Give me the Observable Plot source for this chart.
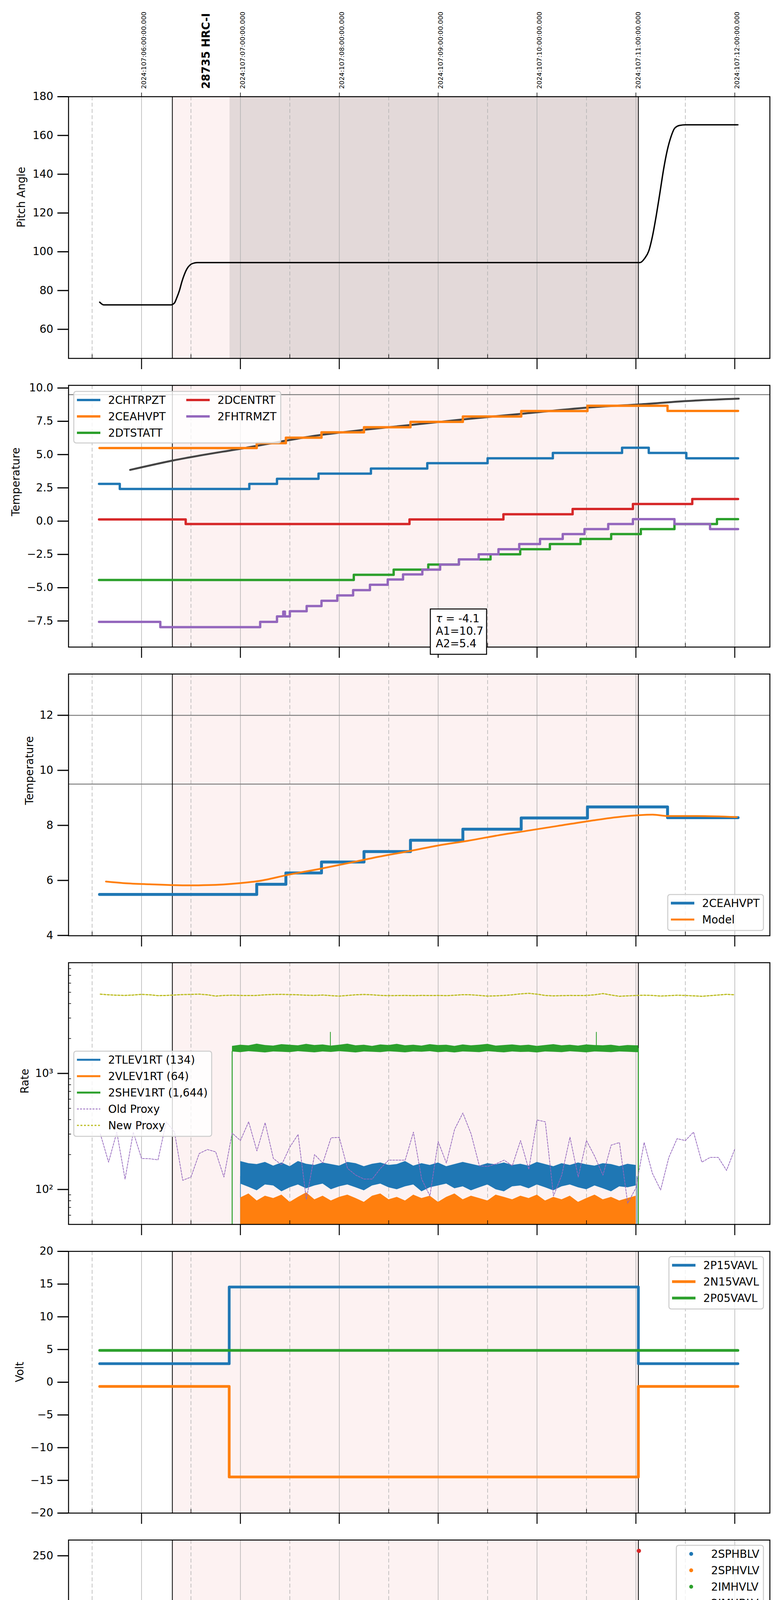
<!DOCTYPE html>
<html>
<head>
<meta charset="utf-8">
<script src="https://cdn.jsdelivr.net/npm/d3@7"></script>
<script src="https://cdn.jsdelivr.net/npm/@observablehq/plot@0.6"></script>
<style>
  body { margin: 0; background: white; }
  #chart svg { display: block; }
  #chart svg + svg { margin-top: -40px; }
</style>
</head>
<body>
<div id="chart"></div>
<script>
// times are local hours on 2024-04-16 written as "HH:MM" (minutes may be fractional)
const hr = s => { const [h, m] = s.split(":"); return +h + +m / 60; };

// ---- time axis ----
const xStart = "01:15.7", xEnd = "08:21.3";
const hourTicks = ["02:00", "03:00", "04:00", "05:00", "06:00", "07:00", "08:00"];
const hourLabels = ["02h", "03h", "04h", "05h", "06h", "07h", "08h"];
const halfTicks = ["01:30", "02:30", "03:30", "04:30", "05:30", "06:30", "07:30"];
const halfLabel = "30";
const utcLabels = ["2024:107:06:00:00.000", "2024:107:07:00:00.000", "2024:107:08:00:00.000",
  "2024:107:09:00:00.000", "2024:107:10:00:00.000", "2024:107:11:00:00.000", "2024:107:12:00:00.000"];
const dateLabel = "2024-04-16 (107)";

const obsStart = "02:18.7", obsEnd = "07:01.5", sciStart = "02:53.5";
const obsLabel = "28735 HRC-I", obsLabelAt = "02:36.7";
const hkEnd = "08:02";

// ---- pitch ----
const pitchTimes = ["01:34.6", "01:37.0", "02:17.8", "02:19.9", "02:21.4", "02:23.0", "02:24.5", "02:26.0",
  "02:27.5", "02:29.6", "02:32.0", "02:34.0", "07:02.4", "07:05.4", "07:07.8", "07:10.0", "07:12.4",
  "07:14.5", "07:16.9", "07:19.0", "07:21.4", "07:23.6", "07:26.6", "07:30.2", "08:01.9"];
const pitchVals = [74.0, 72.6, 72.6, 73.5, 76.3, 80.0, 84.6, 88.3, 91.1, 93.3, 94.2, 94.4, 94.4, 96.7,
  100.4, 107.8, 118.9, 130.0, 143.0, 152.2, 159.6, 163.8, 165.2, 165.5, 165.5];

// ---- housekeeping temperatures ----
const chtrpztTimes = ["01:34.2", "01:46.8", "03:05.4", "03:22.2", "03:47.4", "04:19.2", "04:53.4", "05:30.0",
  "06:09.6", "06:51.6", "07:07.8", "07:30.6"];
const chtrpztVals = [2.80, 2.42, 2.80, 3.18, 3.57, 3.95, 4.35, 4.72, 5.12, 5.51, 5.12, 4.72];
const ceahvptTimes = ["01:34.5", "03:09.9", "03:27.6", "03:49.2", "04:15.0", "04:43.2", "05:15.0", "05:50.4",
  "06:30.6", "07:19.2"];
const ceahvptVals = [5.49, 5.86, 6.27, 6.67, 7.05, 7.46, 7.86, 8.27, 8.67, 8.28];
const dtstattTimes = ["01:34.2", "04:08.8", "04:33.0", "04:54.0", "05:12.6", "05:31.8", "05:49.8", "06:07.8",
  "06:26.4", "06:45.0", "07:03.0", "07:23.4", "07:49.2"];
const dtstattVals = [-4.42, -4.03, -3.64, -3.26, -2.87, -2.49, -2.11, -1.72, -1.34, -0.97, -0.60, -0.22, 0.15];
const dcentrtTimes = ["01:34.2", "02:26.8", "04:42.6", "05:39.6", "06:21.6", "06:58.2", "07:34.2"];
const dcentrtVals = [0.13, -0.22, 0.13, 0.52, 0.91, 1.29, 1.66];
const fhtrmztTimes = ["01:34.2", "02:11.4", "03:12.0", "03:22.2", "03:26.0", "03:27.0", "03:30.0", "03:40.2",
  "03:49.2", "03:58.8", "04:08.4", "04:18.6", "04:29.4", "04:38.7", "04:50.4", "05:01.2", "05:12.6",
  "05:24.6", "05:36.6", "05:49.2", "06:01.8", "06:15.6", "06:28.8", "06:43.2", "06:58.2", "07:23.4", "07:45.0"];
const fhtrmztVals = [-7.57, -7.96, -7.57, -7.16, -6.80, -7.16, -6.77, -6.38, -5.98, -5.58, -5.18, -4.78,
  -4.38, -4.00, -3.64, -3.26, -2.87, -2.49, -2.11, -1.72, -1.34, -0.97, -0.60, -0.22, 0.15, -0.22, -0.60];
const fitTimes = ["01:53.1", "02:19.2", "03:03.0", "03:50.4", "04:15.0", "04:43.2", "05:15.0", "05:50.4",
  "06:30.6", "07:02.4", "07:30.6", "08:02.4"];
const fitVals = [3.85, 4.56, 5.50, 6.50, 6.86, 7.22, 7.64, 8.06, 8.53, 8.77, 9.02, 9.20];
const fitNote = ["τ = -4.1", "A1=10.7", "A2=5.4"];
const tempLimits = [9.5];

// ---- 2CEAHVPT model ----
const modelTimes = ["01:38.4", "01:49.8", "02:04.8", "02:28.8", "02:40.8", "02:59.4", "03:11.4", "03:29.4",
  "03:47.4", "04:05.4", "04:24.0", "04:42.0", "05:00.0", "05:18.0", "05:36.6", "05:54.6", "06:12.6",
  "06:30.6", "06:51.6", "07:10.2", "07:19.2", "07:37.2", "08:01.2"];
const modelVals = [5.96, 5.90, 5.86, 5.82, 5.83, 5.90, 5.98, 6.21, 6.41, 6.63, 6.86, 7.06, 7.27, 7.44, 7.64,
  7.81, 7.98, 8.15, 8.32, 8.39, 8.34, 8.34, 8.30];
const modelLimits = [12, 9.5];

// ---- rates (5 minute envelopes of the noisy rates) ----
const levStart = "03:00", levStep = 5;
const tlevHi = [175, 168, 165, 172, 160, 170, 158, 175, 166, 162, 170, 165, 160, 172, 168, 158, 166, 170, 162,
  165, 175, 160, 168, 162, 170, 158, 165, 172, 166, 160, 168, 164, 170, 162, 166, 160, 172, 165, 158, 168, 162,
  170, 164, 160, 168, 165, 158, 166, 162];
const tlevLo = [112, 105, 98, 110, 108, 96, 104, 110, 102, 108, 112, 100, 106, 110, 104, 98, 108, 112, 104,
  100, 106, 110, 96, 104, 108, 112, 102, 106, 98, 104, 110, 100, 96, 106, 108, 102, 110, 104, 98, 106, 110, 104,
  100, 108, 102, 96, 106, 104, 108];
const vlevHi = [85, 92, 80, 88, 84, 90, 78, 86, 94, 82, 88, 80, 86, 90, 84, 78, 88, 92, 82, 86, 80, 90, 84, 88,
  78, 86, 92, 82, 88, 84, 80, 90, 86, 82, 88, 84, 90, 80, 86, 82, 88, 78, 84, 90, 82, 86, 80, 84, 88];
const vlevLo = 45;
const tlevEdgeTimes = ["03:00", "07:00.6"], tlevEdgeTop = [130, 130];
const shevStart = "02:55", shevStep = 5;
const shevHi = [1720, 1760, 1740, 1800, 1750, 1730, 1780, 1760, 1740, 1790, 1750, 1770, 1730, 1760, 1800, 1740,
  1760, 1720, 1770, 1750, 1790, 1740, 1760, 1730, 1780, 1750, 1760, 1720, 1770, 1740, 1760, 1790, 1730, 1750,
  1770, 1740, 1760, 1720, 1750, 1780, 1740, 1760, 1730, 1770, 1750, 1740, 1760, 1720, 1750, 1740];
const shevLo = [1540, 1520, 1550, 1530, 1510, 1540, 1530, 1520, 1550, 1530, 1515, 1540, 1525, 1550, 1530, 1510,
  1540, 1530, 1520, 1545, 1530, 1515, 1540, 1530, 1550, 1520, 1535, 1510, 1540, 1530, 1520, 1550, 1530, 1515,
  1540, 1525, 1530, 1510, 1540, 1530, 1520, 1545, 1530, 1515, 1540, 1530, 1520, 1540, 1530, 1520];
const shevEdgeTimes = ["02:55", "07:01.5"], shevEdgeTop = [1550, 1650];
const shevSpikeTimes = ["03:54.6", "06:36.0"], shevSpikeVals = [2270, 2270];
const proxyStart = "01:35", proxyStep = 5;
const oldProxy = [301, 172, 312, 123, 312, 185, 184, 180, 383, 312, 120, 128, 204, 221, 211, 128, 306, 264, 383,
  215, 376, 185, 163, 232, 298, 82, 200, 169, 279, 281, 152, 133, 123, 123, 152, 179, 179, 179, 312, 123, 88, 259,
  169, 330, 456, 301, 160, 158, 166, 179, 160, 264, 149, 397, 383, 88, 133, 282, 128, 264, 193, 133, 241, 254, 76,
  103, 254, 138, 99, 189, 274, 264, 312, 172, 189, 189, 146, 223];
const newProxy = [4820, 4760, 4720, 4700, 4740, 4800, 4760, 4680, 4700, 4740, 4780, 4800, 4820, 4760, 4640,
  4700, 4720, 4700, 4690, 4700, 4760, 4790, 4800, 4780, 4760, 4720, 4700, 4740, 4680, 4640, 4700, 4760, 4790,
  4760, 4700, 4680, 4690, 4700, 4680, 4700, 4690, 4700, 4680, 4720, 4770, 4760, 4700, 4640, 4660, 4700, 4760,
  4850, 4900, 4820, 4700, 4660, 4680, 4700, 4690, 4700, 4760, 4880, 4740, 4620, 4660, 4700, 4720, 4700, 4640,
  4680, 4720, 4700, 4660, 4620, 4680, 4740, 4800, 4760];
const rateNames = ["2TLEV1RT (134)", "2VLEV1RT (64)", "2SHEV1RT (1,644)", "Old Proxy", "New Proxy"];

// ---- voltages ----
const voltTimes = ["01:34.6", "02:53.2", "07:01.5"], voltEnd = "08:01.9";
const p15Vals = [2.84, 14.55, 2.84];
const n15Vals = [-0.64, -14.48, -0.64];
const p05Vals = [4.87, 4.87, 4.87];

// ---- HV monitor ----
const hvOn = "03:00", hvOff = "07:01.5";
const imhblvLevel = 86, imhvlvLevel = 79;
const imhblvTimes = ["02:56.2", "02:56.2", "02:56.2", "02:56.8", "02:56.8", "02:57.7", "02:58.3", "02:58.3",
  "02:59.2", "04:49.5", "04:55.5", "05:00.0", "06:04.2", "06:07.8", "06:10.2", "06:13.8", "07:01.8"];
const imhblvVals = [127, 124, 119, 106, 104, 101, 97, 93, 90, 79, 79, 79, 79, 79, 79, 79, 255];
const imhvlvTimes = ["02:56.8", "02:57.4", "02:58.3", "02:58.9", "02:59.7", "04:49.5", "04:55.5", "05:00.0",
  "06:04.2", "06:07.8", "06:10.2", "06:13.8"];
const imhvlvVals = [100, 95, 90, 86, 82, 127, 127, 127, 127, 127, 127, 127];

// ---- detector temperatures ----
const detEnd = "07:01.0";
const spinatmTimes = ["02:53.5", "02:54.0", "04:33.5", "05:52.3", "06:56.4"];
const spinatmVals = [1.20, 1.74, 2.22, 2.69, 3.17];
const sphvatmTimes = ["02:53.5", "03:37.6", "04:04.8", "04:30.8", "04:58.6", "05:24.8", "05:53.8", "06:27.0", "06:59.4"];
const sphvatmVals = [13.64, 13.97, 14.30, 14.64, 14.99, 15.35, 15.69, 16.01, 16.35];
const iminatmTimes = ["02:53.5", "04:11.7", "05:28.7", "06:24.7"];
const iminatmVals = [-0.06, 0.38, 0.83, 1.29];
const imhvatmTimes = ["02:53.3", "02:53.5", "03:05.3", "03:12.5", "03:19.4", "03:26.4", "03:34.6", "03:44.5",
  "03:56.0", "04:09.6", "04:26.2", "04:44.0", "05:04.0", "05:28.7", "05:56.2", "06:29.2"];
const imhvatmVals = [-5, 12.94, 13.34, 13.67, 13.98, 14.32, 14.64, 14.99, 15.34, 15.69, 16.01, 16.35, 16.71,
  17.05, 17.41, 17.76];
const glitchTimes = ["04:43.4", "04:48.0", "04:49.5", "04:51.0", "04:52.5", "04:54.0", "04:55.5", "04:57.0",
  "04:58.5", "05:00.0", "05:03.0", "05:04.5", "05:07.5", "05:09.0", "05:11.4", "05:16.2",
  "05:50.4", "06:04.2", "06:06.6", "06:07.8", "06:10.2", "06:12.6", "06:13.8"];
const spinatmGlitch = [-3, -3, -3, -3, -3, -3, -3, -3, -3, -3, -3, -3, -3, -3, -3, -3, -3, -3, -3, -3, -3, -3, -3];
const sphvatmGlitch = [8.3, 8.3, 8.3, 8.3, -3, 8.3, -3, 8.3, 8.3, 8.3, 8.3, 8.3, 8.3, 8.3, 8.3, 8.3,
  8.9, 9.3, 9.3, 9.3, 9.3, 9.3, 9.3];
const iminatmGlitch = [2.32, 2.32, 2.32, 2.32, 2.32, 2.32, 2.32, 2.32, 2.32, 2.32, 2.32, 2.32, 2.32, 2.32, 2.32,
  2.32, 2.32, 2.79, 2.79, 2.79, 2.79, 2.79, 2.79];
const imhvatmGlitch = [14.6, 14.6, 14.6, 14.6, 14.6, 14.6, 14.6, 14.6, 14.6, 14.6, 14.6, 14.6, 14.6, 14.6, 14.6,
  14.6, 15.3, 15.6, 15.6, 15.6, 15.6, 15.6, 15.6];
const finalSpike = "07:01.8";

// ---- FEA temperatures ----
const fradpytTimes = ["01:34.6", "01:41.4", "01:50.7", "02:05.0", "02:40.0", "03:05.0", "03:22.5", "03:32.0",
  "03:41.7", "03:52.6", "04:02.9", "04:13.1", "04:24.0", "04:36.1", "04:47.6", "04:58.8", "05:11.8", "05:24.5",
  "05:37.5", "05:51.7", "06:05.3", "06:19.8", "06:34.6", "06:50.1"];
const fradpytVals = [-9.20, -9.62, -10.05, -10.45, -10.45, -10.05, -9.62, -9.20, -8.80, -8.40, -8.00, -7.60,
  -7.20, -6.80, -6.40, -6.00, -5.60, -5.20, -4.80, -4.40, -4.00, -3.60, -3.25, -2.88];
const fepratmTimes = ["02:53.3", "02:53.5", "02:57.2", "03:00.5", "03:03.6", "03:07.8", "03:13.3", "03:19.9",
  "03:27.5", "03:35.6", "03:44.1", "03:53.8", "04:03.4", "04:13.7", "04:24.9", "04:36.1", "04:47.6", "05:00.3",
  "05:14.5", "05:26.0", "05:40.5", "05:54.1", "06:09.2", "06:24.9", "06:42.5", "07:00.6"];
const fepratmVals = [-10.5, -8.12, -7.69, -7.27, -6.87, -6.42, -6.00, -5.60, -5.19, -4.79, -4.36, -3.96,
  -3.53, -3.11, -2.68, -2.26, -1.83, -1.41, -0.96, -0.50, -0.09, 0.37, 0.80, 1.27, 1.73, 2.10];
const fe00atmTimes = ["02:53.3", "02:53.5", "03:03.0", "03:10.6", "03:16.6", "03:22.9", "03:29.8", "03:36.8",
  "03:43.7", "03:51.5", "03:58.5", "04:06.6", "04:14.8", "04:22.4", "04:30.8", "04:39.3", "04:48.3", "04:57.5",
  "05:05.0", "05:19.5", "05:26.5", "05:37.7", "05:47.4", "05:58.0", "06:07.4", "06:19.2", "06:30.7", "06:41.9",
  "06:53.7"];
const fe00atmVals = [-10.5, -9.29, -8.93, -8.54, -8.19, -7.82, -7.48, -7.10, -6.76, -6.40, -6.06, -5.70, -5.36,
  -5.02, -4.68, -4.32, -3.97, -3.65, -3.32, -3.00, -2.68, -2.30, -1.94, -1.60, -1.32, -0.94, -0.62, -0.29, 0.05];
const feaEnd = "07:01.5";
const fepratmGlitch = [-6.08, -6.08, -6.08, -6.08, -6.08, -6.08, -6.08, -6.08, -6.08, -6.08, -6.08, -6.08,
  -6.08, -6.08, -6.08, -6.08, -6.08, -6.08, -6.08, -6.08, -6.08, -6.08, -6.08];
const fe00atmSpikeTimes = ["03:19.2", "03:42.2", "04:43.4", "04:48.0", "04:48.6", "04:49.2", "04:49.5", "04:50.2",
  "04:51.0", "04:51.6", "04:52.5", "04:53.2", "04:54.0", "04:55.5", "04:56.2", "04:57.0", "04:57.6", "04:58.5",
  "04:59.4", "05:00.0", "05:01.0", "05:02.0", "05:03.0", "05:04.5", "05:05.5", "05:07.5", "05:09.0", "05:11.4",
  "05:16.2", "05:50.4", "05:57.6", "06:04.2", "06:06.6", "06:07.8", "06:10.2", "06:12.6", "06:13.8", "06:20.1"];
const fe00atmSpikeVals = [-9.3, -8.2, 5, 5, 5, 5, 5, 5, 5, 5, -11, 5, 5, -11, 5, 5, 5, 5, 5, 5, 5, 5, 5, 5, 5,
  5, 5, 5, 5, 5, 5, -11, 5, 5, 5, 5, 5, 5];

// ---- helpers ----
const C = {blue: "#1f77b4", orange: "#ff7f0e", green: "#2ca02c", red: "#d62728", purple: "#9467bd", olive: "#bcbd22"};
const W = 2000, ML = 175, MR = 29, PH = 670, FONT = 27.8;
const PW = W - ML - MR;
// svgs overlap by 40px (css) so the top tick label of each panel stays inside its own svg
const layout = [{mt: 247, mb: 69}, {mt: 40, mb: 69}, {mt: 40, mb: 69}, {mt: 40, mb: 69},
                {mt: 40, mb: 69}, {mt: 40, mb: 69}, {mt: 40, mb: 69}, {mt: 40, mb: 110}];

const stepData = (times, vals, end) => {
  const d = times.map((t, i) => ({t: hr(t), v: vals[i]}));
  if (end) d.push({t: hr(end), v: vals[vals.length - 1]});
  return d;
};
const ptsData = (times, vals) => times.map((t, i) => ({t: hr(t), v: vals[i]}));
const levelAt = (times, vals, t) => {
  let v = vals[0];
  times.forEach((s, i) => { if (hr(s) <= t) v = vals[i]; });
  return v;
};
const spikeData = (times, vals, sTimes, sVals) =>
  sTimes.map((s, i) => ({t: hr(s), a: levelAt(times, vals, hr(s)), b: sVals[i]}));
const bandData = (start, stepMin, hi, lo) =>
  hi.map((h, i) => ({t: hr(start) + i * stepMin / 60, hi: h, lo: Array.isArray(lo) ? lo[i] : lo}));

const stepLine = (d, stroke, strokeWidth) =>
  Plot.line(d, {x: "t", y: "v", curve: "step-after", stroke, strokeWidth, strokeLinejoin: "round", clip: true});
const spikes = (d, stroke, strokeWidth) =>
  Plot.ruleX(d, {x: "t", y1: "a", y2: "b", stroke, strokeWidth, clip: true});
const minus = s => s.replace("-", "\u2212");

const legendMark = (mt, spec) => () => {
  const g = d3.create("svg:g")
    .attr("transform", `translate(${ML + spec.x},${mt + spec.y})`)
    .attr("font-family", "DejaVu Sans").attr("font-size", FONT).attr("text-anchor", "start");
  g.append("rect").attr("width", spec.w).attr("height", spec.h).attr("rx", 6)
    .attr("fill", "white").attr("fill-opacity", 0.8).attr("stroke", "#cccccc").attr("stroke-width", 2.5);
  spec.items.forEach((it, k) => {
    const col = Math.floor(k / spec.rows), row = k % spec.rows;
    const ox = col * (spec.colW || 0), cy = 22 + row * 42;
    if (it.dot) {
      g.append("circle").attr("cx", ox + 38).attr("cy", cy).attr("r", 5).attr("fill", it.color);
    } else {
      g.append("line").attr("x1", ox + 8).attr("x2", ox + 68).attr("y1", cy).attr("y2", cy)
        .attr("stroke", it.color).attr("stroke-width", it.w).attr("stroke-dasharray", it.dash || null);
    }
    g.append("text").attr("x", ox + (it.dot ? 89 : 88)).attr("y", cy).attr("dy", "0.35em").text(it.label);
  });
  return g.node();
};

const noteMark = (mt) => () => {
  const g = d3.create("svg:g").attr("transform", `translate(${ML + 927},${mt + 573})`)
    .attr("font-family", "DejaVu Sans").attr("font-size", FONT).attr("text-anchor", "start");
  g.append("rect").attr("width", 144).attr("height", 116).attr("fill", "white")
    .attr("stroke", "black").attr("stroke-width", 2.5);
  fitNote.forEach((line, k) => {
    const t = g.append("text").attr("x", 14).attr("y", 24 + k * 32).attr("dy", "0.35em");
    if (line.startsWith("τ")) {
      t.append("tspan").attr("font-style", "italic").text("τ");
      t.append("tspan").text(line.slice(1));
    } else t.text(line);
  });
  return g.node();
};

function panel(i, o) {
  const {mt, mb} = layout[i];
  const last = i === layout.length - 1;
  const [y0, y1] = o.domain;
  const hours = hourTicks.map(hr), halves = halfTicks.map(hr);
  const marks = [
    Plot.rect([0], {x1: () => hr(obsStart), x2: () => hr(obsEnd), y1: () => y0, y2: () => y1, fill: "#fdf2f2"}),
    ...(o.dark ? [Plot.rect([0], {x1: () => hr(sciStart), x2: () => hr(obsEnd), y1: () => y0, y2: () => y1,
                                  fill: "black", fillOpacity: 0.1})] : []),
    Plot.ruleX(hours, {stroke: "#b0b0b0", strokeWidth: 1.5}),
    Plot.ruleX(halves, {stroke: "#b0b0b0", strokeWidth: 1.5, strokeDasharray: "10,6"}),
    ...(o.limits ? [Plot.ruleY(o.limits, {stroke: "#808080", strokeWidth: 2.5})] : []),
    Plot.ruleX([hr(obsStart), hr(obsEnd)], {stroke: "black", strokeWidth: 2}),
    ...o.marks,
    // inward minor ticks at the half hours, outward major ticks at the hours
    Plot.ruleX(halves, {insetTop: PH - 10, stroke: "black", strokeWidth: 1.5}),
    Plot.ruleX(hours, {insetTop: PH, insetBottom: -28, stroke: "black", strokeWidth: 2.5}),
    ...(o.minorY ? [Plot.ruleY(o.minorY, {insetRight: PW - 7, stroke: "black", strokeWidth: 1.5})] : []),
    Plot.frame({stroke: "black", strokeWidth: 2.5}),
    Plot.axisY({ticks: o.ticks, tickSize: 28, tickPadding: 11, strokeWidth: 3, fontSize: FONT, label: null,
                tickFormat: o.format}),
    Plot.text([o.label], {frameAnchor: "left", dx: o.labelDx, rotate: -90, fontSize: FONT}),
    ...(o.legend ? [legendMark(mt, o.legend)] : []),
    ...(o.extra || [])
  ];
  if (i === 0) {
    marks.push(
      Plot.ruleX(hours, {insetBottom: PH, insetTop: -10, stroke: "black", strokeWidth: 1.5}),
      Plot.text(utcLabels, {x: (d, k) => hours[k], frameAnchor: "top", dy: -20, rotate: -90,
                            textAnchor: "start", fontSize: 16.7}),
      Plot.text([obsLabel], {x: () => hr(obsLabelAt), frameAnchor: "top", dy: -20, rotate: -90,
                             textAnchor: "start", fontSize: FONT, fontWeight: "bold"})
    );
  }
  if (last) {
    marks.push(
      Plot.text(hourLabels, {x: (d, k) => hours[k], frameAnchor: "bottom", dy: 50, fontSize: FONT}),
      Plot.text(halfTicks, {x: hr, text: () => halfLabel, frameAnchor: "bottom", dy: 16, fontSize: 16.7}),
      Plot.text([dateLabel], {frameAnchor: "bottom", dy: 89, fontSize: FONT})
    );
  }
  return Plot.plot({
    width: W, height: mt + PH + mb,
    marginLeft: ML, marginRight: MR, marginTop: mt, marginBottom: mb,
    style: {fontFamily: "DejaVu Sans", fontSize: FONT + "px", background: "transparent", overflow: "visible"},
    x: {domain: [hr(xStart), hr(xEnd)], axis: null},
    y: {domain: o.domain, type: o.type || "linear"},
    marks
  });
}

const fmt1 = d => minus(d.toFixed(1));
const fmt0 = d => minus(String(d));
const chart = document.getElementById("chart");

// 1 Pitch Angle
chart.append(panel(0, {
  domain: [45, 180], ticks: [60, 80, 100, 120, 140, 160, 180], format: fmt0, label: "Pitch Angle", labelDx: -120,
  dark: true,
  marks: [Plot.line(ptsData(pitchTimes, pitchVals), {x: "t", y: "v", curve: "monotone-x", stroke: "black", strokeWidth: 3.5})]
}));

// 2 Temperature
chart.append(panel(1, {
  domain: [-9.46, 10.2], ticks: [-7.5, -5, -2.5, 0, 2.5, 5, 7.5, 10], format: fmt1, label: "Temperature", labelDx: -134,
  limits: tempLimits,
  marks: [
    Plot.line(ptsData(fitTimes, fitVals), {x: "t", y: "v", curve: "monotone-x", stroke: "#444444", strokeWidth: 5}),
    stepLine(stepData(chtrpztTimes, chtrpztVals, hkEnd), C.blue, 6),
    stepLine(stepData(ceahvptTimes, ceahvptVals, hkEnd), C.orange, 6),
    stepLine(stepData(dtstattTimes, dtstattVals, hkEnd), C.green, 6),
    stepLine(stepData(dcentrtTimes, dcentrtVals, hkEnd), C.red, 6),
    stepLine(stepData(fhtrmztTimes, fhtrmztVals, hkEnd), C.purple, 6)
  ],
  legend: {x: 14, y: 16, w: 530, h: 132, rows: 3, colW: 280, items: [
    {label: "2CHTRPZT", color: C.blue, w: 6}, {label: "2CEAHVPT", color: C.orange, w: 6},
    {label: "2DTSTATT", color: C.green, w: 6}, {label: "2DCENTRT", color: C.red, w: 6},
    {label: "2FHTRMZT", color: C.purple, w: 6}]},
  extra: [noteMark(layout[1].mt)]
}));

// 3 Temperature (2CEAHVPT vs model)
chart.append(panel(2, {
  domain: [3.99, 13.5], ticks: [4, 6, 8, 10, 12], format: fmt0, label: "Temperature", labelDx: -99,
  limits: modelLimits,
  marks: [
    stepLine(stepData(ceahvptTimes, ceahvptVals, hkEnd), C.blue, 7.5),
    Plot.line(ptsData(modelTimes, modelVals), {x: "t", y: "v", curve: "monotone-x", stroke: C.orange, strokeWidth: 4.5})
  ],
  legend: {x: 1535, y: 565, w: 245, h: 92, rows: 2, items: [
    {label: "2CEAHVPT", color: C.blue, w: 7}, {label: "Model", color: C.orange, w: 5}]}
}));

// 4 Rate
const tlevBand = bandData(levStart, levStep, tlevHi, tlevLo);
const vlevBand = bandData(levStart, levStep, vlevHi, vlevLo);
const shevBand = bandData(shevStart, shevStep, shevHi, shevLo);
shevBand.push({t: hr(shevEdgeTimes[1]), hi: shevHi[shevHi.length - 1], lo: shevLo[shevLo.length - 1]});
const proxyT = (k) => hr(proxyStart) + k * proxyStep / 60;
chart.append(panel(3, {
  domain: [50, 9000], type: "log", ticks: [100, 1000], format: d => (d === 100 ? "10\u00b2" : "10\u00b3"),
  minorY: [60, 70, 80, 90, 200, 300, 400, 500, 600, 700, 800, 900, 2000, 3000, 4000, 5000, 6000, 7000, 8000],
  label: "Rate", labelDx: -111,
  marks: [
    Plot.areaY(tlevBand, {x: "t", y1: "lo", y2: "hi", fill: C.blue, clip: true}),
    Plot.ruleX(tlevEdgeTimes, {x: hr, y1: () => 45, y2: (d, k) => tlevEdgeTop[k], stroke: C.blue, strokeWidth: 1.5, clip: true}),
    Plot.areaY(vlevBand, {x: "t", y1: "lo", y2: "hi", fill: C.orange, clip: true}),
    Plot.areaY(shevBand, {x: "t", y1: "lo", y2: "hi", fill: C.green, clip: true}),
    Plot.ruleX(shevEdgeTimes, {x: hr, y1: () => 45, y2: (d, k) => shevEdgeTop[k], stroke: C.green, strokeWidth: 2.5, clip: true}),
    Plot.ruleX(shevSpikeTimes, {x: hr, y1: () => 1700, y2: (d, k) => shevSpikeVals[k], stroke: C.green, strokeWidth: 2, clip: true}),
    Plot.line(oldProxy, {x: (d, k) => proxyT(k), y: d => d, stroke: C.purple, strokeWidth: 1.8, strokeDasharray: "5,3"}),
    Plot.line(newProxy, {x: (d, k) => proxyT(k), y: d => d, stroke: C.olive, strokeWidth: 3, strokeDasharray: "5,4"})
  ],
  legend: {x: 14, y: 227, w: 353, h: 218, rows: 5, items: [
    {label: rateNames[0], color: C.blue, w: 5}, {label: rateNames[1], color: C.orange, w: 5},
    {label: rateNames[2], color: C.green, w: 5}, {label: rateNames[3], color: C.purple, w: 1.8, dash: "5,3"},
    {label: rateNames[4], color: C.olive, w: 3, dash: "5,4"}]}
}));

// 5 Volt
chart.append(panel(4, {
  domain: [-20, 20], ticks: [-20, -15, -10, -5, 0, 5, 10, 15, 20], format: fmt0, label: "Volt", labelDx: -124,
  marks: [
    stepLine(stepData(voltTimes, p15Vals, voltEnd), C.blue, 7),
    stepLine(stepData(voltTimes, n15Vals, voltEnd), C.orange, 7),
    stepLine(stepData(voltTimes, p05Vals, voltEnd), C.green, 7)
  ],
  legend: {x: 1538, y: 14, w: 242, h: 134, rows: 3, items: [
    {label: "2P15VAVL", color: C.blue, w: 7}, {label: "2N15VAVL", color: C.orange, w: 7},
    {label: "2P05VAVL", color: C.green, w: 7}]}
}));

// 6 HV Monitor
chart.append(panel(5, {
  domain: [0, 266], ticks: [0, 50, 100, 150, 200, 250], format: fmt0, label: "HV Monitor", labelDx: -119,
  marks: [
    Plot.line([{t: hr(hvOn), v: imhvlvLevel}, {t: hr(hvOff), v: imhvlvLevel}],
              {x: "t", y: "v", stroke: C.green, strokeWidth: 12, strokeLinecap: "round"}),
    Plot.dot(ptsData(imhvlvTimes, imhvlvVals), {x: "t", y: "v", r: 5.5, fill: C.green}),
    Plot.line([{t: hr(hvOn), v: imhblvLevel}, {t: hr(hvOff), v: imhblvLevel}],
              {x: "t", y: "v", stroke: C.red, strokeWidth: 11, strokeLinecap: "round"}),
    Plot.dot(ptsData(imhblvTimes, imhblvVals), {x: "t", y: "v", r: 5.5, fill: C.red})
  ],
  legend: {x: 1557, y: 14, w: 223, h: 175, rows: 4, items: [
    {label: "2SPHBLV", color: C.blue, dot: true}, {label: "2SPHVLV", color: C.orange, dot: true},
    {label: "2IMHVLV", color: C.green, dot: true}, {label: "2IMHBLV", color: C.red, dot: true}]}
}));

// 7 Detector Temp
chart.append(panel(6, {
  domain: [-1.6, 18.87], ticks: [0, 2.5, 5, 7.5, 10, 12.5, 15, 17.5], format: fmt1, label: "Detector Temp", labelDx: -129,
  marks: [
    stepLine(stepData(spinatmTimes, spinatmVals, detEnd), C.blue, 6.5),
    spikes(spikeData(spinatmTimes, spinatmVals, glitchTimes, spinatmGlitch), C.blue, 6),
    stepLine(stepData(sphvatmTimes, sphvatmVals, detEnd), C.orange, 6.5),
    spikes(spikeData(sphvatmTimes, sphvatmVals, glitchTimes, sphvatmGlitch), C.orange, 6),
    stepLine(stepData(iminatmTimes, iminatmVals, detEnd), C.green, 6.5),
    spikes(spikeData(iminatmTimes, iminatmVals, glitchTimes, iminatmGlitch), C.green, 6),
    stepLine(stepData(imhvatmTimes, imhvatmVals, detEnd), C.red, 6.5),
    spikes(spikeData(imhvatmTimes, imhvatmVals, glitchTimes, imhvatmGlitch), C.red, 6),
    Plot.ruleX([finalSpike], {x: hr, y1: () => -3, y2: () => 25, stroke: C.red, strokeWidth: 6, clip: true})
  ],
  legend: {x: 1534, y: 12, w: 246, h: 178, rows: 4, items: [
    {label: "2SPINATM", color: C.blue, w: 7}, {label: "2SPHVATM", color: C.orange, w: 7},
    {label: "2IMINATM", color: C.green, w: 7}, {label: "2IMHVATM", color: C.red, w: 7}]}
}));

// 8 FEA Temp
chart.append(panel(7, {
  domain: [-9.9, 1.84], ticks: [-8, -6, -4, -2, 0], format: fmt0, label: "FEA Temp", labelDx: -108,
  marks: [
    stepLine(stepData(fhtrmztTimes, fhtrmztVals, hkEnd), C.blue, 6.5),
    stepLine(stepData(fradpytTimes, fradpytVals, hkEnd), C.orange, 6.5),
    stepLine(stepData(fepratmTimes, fepratmVals, feaEnd), C.green, 6.5),
    spikes(spikeData(fepratmTimes, fepratmVals, glitchTimes, fepratmGlitch), C.green, 6),
    stepLine(stepData(fe00atmTimes, fe00atmVals, feaEnd), C.red, 6.5),
    spikes(spikeData(fe00atmTimes, fe00atmVals, fe00atmSpikeTimes, fe00atmSpikeVals), C.red, 5),
    Plot.ruleX([finalSpike], {x: hr, y1: () => -11, y2: () => 5, stroke: C.red, strokeWidth: 6, clip: true})
  ],
  legend: {x: 14, y: 14, w: 248, h: 175, rows: 4, items: [
    {label: "2FHTRMZT", color: C.blue, w: 7}, {label: "2FRADPYT", color: C.orange, w: 7},
    {label: "2FEPRATM", color: C.green, w: 7}, {label: "2FE00ATM", color: C.red, w: 7}]}
}));
</script>
</body>
</html>
